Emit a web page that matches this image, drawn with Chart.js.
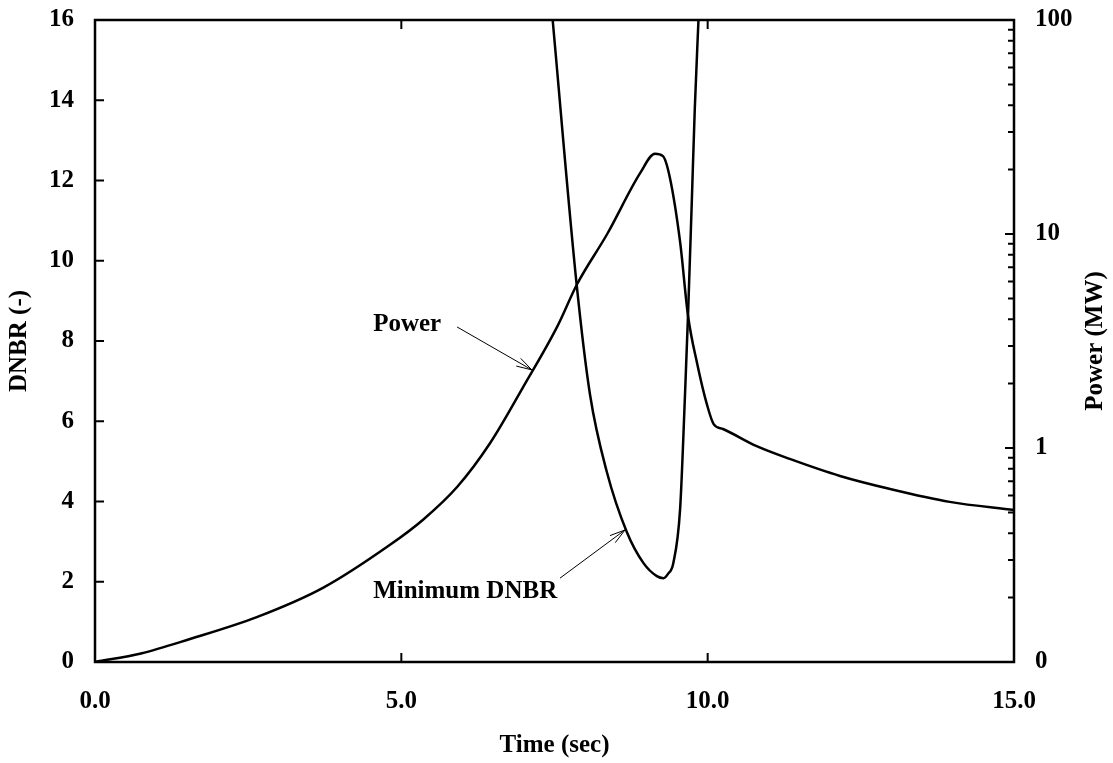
<!DOCTYPE html>
<html>
<head>
<meta charset="utf-8">
<script src="https://cdn.jsdelivr.net/npm/chart.js@4"></script>
<style>
html, body { margin: 0; padding: 0; background: #fff; }
#wrap { width: 1113px; height: 763px; }
</style>
</head>
<body>
<div id="wrap"><canvas id="dnbrChart"></canvas></div>
<script>
// Minimum DNBR, left axis
const dnbrTime = [7.47, 7.86, 8.08, 8.35, 8.68, 8.95, 9.17, 9.28, 9.35, 9.44, 9.55, 9.63, 9.68, 9.74, 9.79, 9.85];
const dnbrValues = [16.0, 9.43, 6.66, 4.76, 3.24, 2.47, 2.14, 2.09, 2.19, 2.47, 3.81, 6.66, 8.67, 11.43, 13.8, 16.0];

// Power (MW), right log axis
const powerTime = [0, 0.75, 1.55, 2.64, 3.72, 4.81, 5.35, 5.91, 6.45, 6.99, 7.54, 7.87, 8.36, 8.90, 9.14, 9.27, 9.38, 9.55, 9.68, 9.83, 9.99, 10.10, 10.25, 10.80, 11.34, 12.16, 12.98, 13.95, 15.0];
const powerValues = [0.10, 0.1096, 0.128, 0.162, 0.222, 0.352, 0.461, 0.657, 1.055, 1.93, 3.67, 5.84, 10.0, 19.3, 23.7, 23.1, 18.5, 9.18, 4.14, 2.47, 1.59, 1.29, 1.227, 1.02, 0.889, 0.740, 0.643, 0.56, 0.513];

// ticks
const timeTicks = [0, 5, 10, 15];
const timeTickLabels = ['0.0', '5.0', '10.0', '15.0'];
const dnbrTicks = [0, 2, 4, 6, 8, 10, 12, 14, 16];
const powerTicks = [0.1, 1, 10, 100];
const powerTickLabels = ['0', '1', '10', '100'];
const powerMinorTicks = [0.2, 0.3, 0.4, 0.5, 0.6, 0.7, 0.8, 0.9, 2, 3, 4, 5, 6, 7, 8, 9, 20, 30, 40, 50, 60, 70, 80, 90];

const font = { family: "'Liberation Serif', 'Times New Roman', serif", size: 25, weight: 'bold' };

function arrow(ctx, x1, y1, x2, y2) {
  const ang = Math.atan2(y2 - y1, x2 - x1);
  ctx.beginPath();
  ctx.moveTo(x1, y1);
  ctx.lineTo(x2, y2);
  ctx.moveTo(x2 - 16 * Math.cos(ang - 0.28), y2 - 16 * Math.sin(ang - 0.28));
  ctx.lineTo(x2, y2);
  ctx.lineTo(x2 - 16 * Math.cos(ang + 0.28), y2 - 16 * Math.sin(ang + 0.28));
  ctx.stroke();
}

const frameAndTicks = {
  id: 'frameAndTicks',
  afterDraw(chart) {
    const { ctx, chartArea: a, scales } = chart;
    const x = scales.x, y = scales.y, y2 = scales.y2;
    ctx.save();
    ctx.strokeStyle = '#000';
    ctx.lineWidth = 2;
    ctx.beginPath();
    dnbrTicks.slice(1, -1).forEach(v => {
      const py = y.getPixelForValue(v);
      ctx.moveTo(a.left, py); ctx.lineTo(a.left + 9, py);
    });
    timeTicks.slice(1, -1).forEach(v => {
      const px = x.getPixelForValue(v);
      ctx.moveTo(px, a.bottom); ctx.lineTo(px, a.bottom - 9);
      ctx.moveTo(px, a.top); ctx.lineTo(px, a.top + 9);
    });
    powerTicks.slice(1, -1).forEach(v => {
      const py = y2.getPixelForValue(v);
      ctx.moveTo(a.right, py); ctx.lineTo(a.right - 9, py);
    });
    powerMinorTicks.forEach(v => {
      const py = y2.getPixelForValue(v);
      ctx.moveTo(a.right, py); ctx.lineTo(a.right - 6, py);
    });
    ctx.stroke();
    ctx.lineWidth = 2.5;
    ctx.strokeRect(a.left, a.top, a.right - a.left, a.bottom - a.top);

    // right axis title, reading bottom to top
    ctx.fillStyle = '#000';
    ctx.font = 'bold 25px "Liberation Serif", serif';
    ctx.textAlign = 'center';
    ctx.textBaseline = 'middle';
    ctx.save();
    ctx.translate(1096, (a.top + a.bottom) / 2);
    ctx.rotate(-Math.PI / 2);
    ctx.fillText('Power (MW)', 0, 0);
    ctx.restore();

    // annotations
    ctx.textAlign = 'left';
    ctx.fillText('Power', x.getPixelForValue(4.54), y.getPixelForValue(8.40));
    ctx.fillText('Minimum DNBR', x.getPixelForValue(4.54), y.getPixelForValue(1.75));
    ctx.lineWidth = 1;
    arrow(ctx, x.getPixelForValue(5.91), y.getPixelForValue(8.35), x.getPixelForValue(7.13), y.getPixelForValue(7.28));
    arrow(ctx, x.getPixelForValue(7.59), y.getPixelForValue(2.09), x.getPixelForValue(8.65), y.getPixelForValue(3.29));
    ctx.restore();
  }
};

new Chart(document.getElementById('dnbrChart'), {
  type: 'line',
  data: {
    datasets: [{
      label: 'Minimum DNBR',
      data: dnbrTime.map((t, i) => ({ x: t, y: dnbrValues[i] })),
      yAxisID: 'y',
      borderColor: '#000',
      borderWidth: 2.5,
      pointRadius: 0,
      cubicInterpolationMode: 'monotone',
      fill: false
    }, {
      label: 'Power',
      data: powerTime.map((t, i) => ({ x: t, y: powerValues[i] })),
      yAxisID: 'y2',
      borderColor: '#000',
      borderWidth: 2.5,
      pointRadius: 0,
      cubicInterpolationMode: 'monotone',
      fill: false
    }]
  },
  options: {
    responsive: true,
    maintainAspectRatio: false,
    animation: false,
    layout: { padding: { top: 20, left: 0, right: 0, bottom: 0 } },
    plugins: {
      legend: { display: false },
      tooltip: { enabled: false }
    },
    scales: {
      x: {
        type: 'linear', min: 0, max: 15,
        grid: { display: false, drawTicks: false },
        border: { display: false },
        afterBuildTicks: s => { s.ticks = timeTicks.map(v => ({ value: v })); },
        afterFit: s => { s.height = 101; s.paddingLeft = 0; s.paddingRight = 0; },
        ticks: { callback: (v, i) => timeTickLabels[i], padding: 25, font: font, color: '#000', maxRotation: 0, autoSkip: false },
        title: { display: true, text: 'Time (sec)', font: font, color: '#000', padding: { top: 0, bottom: 2 } }
      },
      y: {
        type: 'linear', position: 'left', min: 0, max: 16,
        grid: { display: false, drawTicks: false },
        border: { display: false },
        afterBuildTicks: s => { s.ticks = dnbrTicks.map(v => ({ value: v })); },
        afterFit: s => { s.width = 95; s.paddingTop = 0; s.paddingBottom = 0; },
        ticks: { padding: 21, font: font, color: '#000' },
        title: { display: true, text: 'DNBR (-)', font: font, color: '#000', padding: { top: 5, bottom: 0 } }
      },
      y2: {
        type: 'logarithmic', position: 'right', min: 0.1, max: 100,
        grid: { display: false, drawTicks: false },
        border: { display: false },
        afterBuildTicks: s => { s.ticks = powerTicks.map(v => ({ value: v })); },
        afterFit: s => { s.width = 99; s.paddingTop = 0; s.paddingBottom = 0; },
        ticks: { callback: (v, i) => powerTickLabels[i], padding: 21, font: font, color: '#000' }
      }
    }
  },
  plugins: [frameAndTicks]
});
</script>
</body>
</html>
